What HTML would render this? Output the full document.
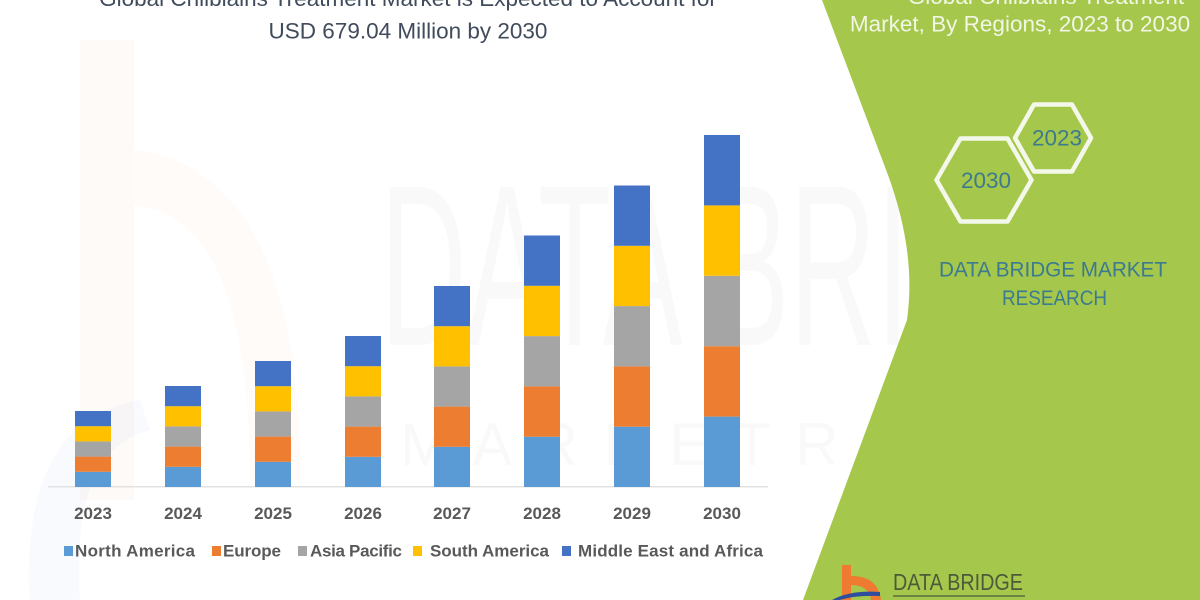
<!DOCTYPE html>
<html><head><meta charset="utf-8"><style>
html,body{margin:0;padding:0;background:#fff;}
svg{display:block;}
text{font-family:"Liberation Sans",sans-serif;}
</style></head><body>
<svg width="1200" height="600" viewBox="0 0 1200 600" xmlns="http://www.w3.org/2000/svg">
<rect width="1200" height="600" fill="#ffffff"/>
<!-- faint watermark -->
<rect x="80" y="40" width="54" height="460" fill="#ed7d31" opacity="0.035"/>
<path d="M134,150 Q300,170 300,480 L250,480 Q250,215 134,205 Z" fill="#ed7d31" opacity="0.03"/>
<path d="M30,600 Q20,420 140,400 L150,430 Q70,450 80,600 Z" fill="#4472c4" opacity="0.035"/>
<g fill="#000" opacity="0.018" font-size="230" font-family="Liberation Sans">
<text x="380" y="345" textLength="790" lengthAdjust="spacingAndGlyphs">DATA BRIDGE</text>
</g>
<g fill="#000" opacity="0.018" font-size="60">
<text x="400" y="465" textLength="760" lengthAdjust="spacing">M A R K E T R E V I E W</text>
</g>

<!-- Title -->
<g fill="#404b5c" font-size="22.5" text-anchor="middle">
<text x="408" y="6">Global Chilblains Treatment Market is Expected to Account for</text>
<text x="408" y="38.3">USD 679.04 Million by 2030</text>
</g>

<!-- axis line -->
<line x1="48" y1="486.8" x2="768" y2="486.8" stroke="#d9d9d9" stroke-width="1.2"/>

<g>
<rect x="75" y="471.8" width="36" height="15.2" fill="#5b9bd5"/>
<rect x="75" y="456.6" width="36" height="15.2" fill="#ed7d31"/>
<rect x="75" y="441.4" width="36" height="15.2" fill="#a5a5a5"/>
<rect x="75" y="426.2" width="36" height="15.2" fill="#ffc000"/>
<rect x="75" y="411" width="36" height="15.2" fill="#4472c4"/>
<rect x="165" y="466.8" width="36" height="20.2" fill="#5b9bd5"/>
<rect x="165" y="446.6" width="36" height="20.2" fill="#ed7d31"/>
<rect x="165" y="426.4" width="36" height="20.2" fill="#a5a5a5"/>
<rect x="165" y="406.2" width="36" height="20.2" fill="#ffc000"/>
<rect x="165" y="386" width="36" height="20.2" fill="#4472c4"/>
<rect x="255" y="461.8" width="36" height="25.2" fill="#5b9bd5"/>
<rect x="255" y="436.6" width="36" height="25.2" fill="#ed7d31"/>
<rect x="255" y="411.4" width="36" height="25.2" fill="#a5a5a5"/>
<rect x="255" y="386.2" width="36" height="25.2" fill="#ffc000"/>
<rect x="255" y="361" width="36" height="25.2" fill="#4472c4"/>
<rect x="345" y="456.8" width="36" height="30.2" fill="#5b9bd5"/>
<rect x="345" y="426.6" width="36" height="30.2" fill="#ed7d31"/>
<rect x="345" y="396.4" width="36" height="30.2" fill="#a5a5a5"/>
<rect x="345" y="366.2" width="36" height="30.2" fill="#ffc000"/>
<rect x="345" y="336" width="36" height="30.2" fill="#4472c4"/>
<rect x="434" y="446.8" width="36" height="40.2" fill="#5b9bd5"/>
<rect x="434" y="406.6" width="36" height="40.2" fill="#ed7d31"/>
<rect x="434" y="366.4" width="36" height="40.2" fill="#a5a5a5"/>
<rect x="434" y="326.2" width="36" height="40.2" fill="#ffc000"/>
<rect x="434" y="286" width="36" height="40.2" fill="#4472c4"/>
<rect x="524" y="436.7" width="36" height="50.3" fill="#5b9bd5"/>
<rect x="524" y="386.4" width="36" height="50.3" fill="#ed7d31"/>
<rect x="524" y="336.1" width="36" height="50.3" fill="#a5a5a5"/>
<rect x="524" y="285.8" width="36" height="50.3" fill="#ffc000"/>
<rect x="524" y="235.5" width="36" height="50.3" fill="#4472c4"/>
<rect x="614" y="426.7" width="36" height="60.3" fill="#5b9bd5"/>
<rect x="614" y="366.4" width="36" height="60.3" fill="#ed7d31"/>
<rect x="614" y="306.1" width="36" height="60.3" fill="#a5a5a5"/>
<rect x="614" y="245.8" width="36" height="60.3" fill="#ffc000"/>
<rect x="614" y="185.5" width="36" height="60.3" fill="#4472c4"/>
<rect x="704" y="416.6" width="36" height="70.4" fill="#5b9bd5"/>
<rect x="704" y="346.2" width="36" height="70.4" fill="#ed7d31"/>
<rect x="704" y="275.8" width="36" height="70.4" fill="#a5a5a5"/>
<rect x="704" y="205.4" width="36" height="70.4" fill="#ffc000"/>
<rect x="704" y="135" width="36" height="70.4" fill="#4472c4"/>
</g>

<g fill="#595959" font-size="17" font-weight="bold" text-anchor="middle">
<text x="93" y="519">2023</text>
<text x="183" y="519">2024</text>
<text x="273" y="519">2025</text>
<text x="363" y="519">2026</text>
<text x="452" y="519">2027</text>
<text x="542" y="519">2028</text>
<text x="632" y="519">2029</text>
<text x="722" y="519">2030</text>
</g>

<g font-size="17" font-weight="bold" fill="#595959">
<rect x="64" y="546" width="9" height="10" fill="#5b9bd5"/>
<text x="75" y="556.7" textLength="120" lengthAdjust="spacing">North America</text>
<rect x="212" y="546" width="9" height="10" fill="#ed7d31"/>
<text x="223" y="556.7" textLength="58" lengthAdjust="spacing">Europe</text>
<rect x="298" y="546" width="9" height="10" fill="#a5a5a5"/>
<text x="310" y="556.7" textLength="92" lengthAdjust="spacing">Asia Pacific</text>
<rect x="413" y="546" width="9" height="10" fill="#ffc000"/>
<text x="430" y="556.7" textLength="119" lengthAdjust="spacing">South America</text>
<rect x="562" y="546" width="9" height="10" fill="#4472c4"/>
<text x="578" y="556.7" textLength="185" lengthAdjust="spacing">Middle East and Africa</text>
</g>

<!-- green panel -->
<path d="M822,0 L888,175 C905,222 914,270 907,320 L803,600 L1200,600 L1200,0 Z" fill="#a5c74b"/>

<g fill="#f2f6e6" font-size="22.5" text-anchor="middle">
<text x="1046" y="4">Global Chilblains Treatment</text>
<text x="1020" y="31.7">Market, By Regions, 2023 to 2030</text>
</g>

<g fill="none" stroke="#f4f8ea" stroke-width="4.5" stroke-linejoin="round">
<polygon points="1015,138 1034,104.5 1072,104.5 1091,138 1072,171.5 1034,171.5"/>
<polygon points="936.5,180 960.5,138.5 1007.5,138.5 1031.5,180 1007.5,221.5 960.5,221.5"/>
</g>
<g fill="#3d7a8e" font-size="22.5" text-anchor="middle">
<text x="1057" y="145.7">2023</text>
<text x="986" y="188">2030</text>
</g>

<g fill="#3b7a90" font-size="21" text-anchor="middle">
<text x="1053" y="276.7" textLength="228" lengthAdjust="spacingAndGlyphs">DATA BRIDGE MARKET</text>
<text x="1054.5" y="305" textLength="105" lengthAdjust="spacingAndGlyphs">RESEARCH</text>
</g>

<rect x="842" y="565" width="9" height="35" fill="#ee7b30"/>
<path d="M851,576 Q878,576 881,600 L871,600 Q869,585 851,585 Z" fill="#ee7b30"/>
<path d="M832,600 Q850,590 880,592 L880,596 Q855,595 840,600 Z" fill="#2e4f9e"/>
<text x="893" y="590" font-size="23" fill="#4d5a3a" textLength="130" lengthAdjust="spacingAndGlyphs">DATA BRIDGE</text>
<line x1="893" y1="596" x2="1025" y2="596" stroke="#5a6b45" stroke-width="1.5"/>
</svg>
</body></html>
